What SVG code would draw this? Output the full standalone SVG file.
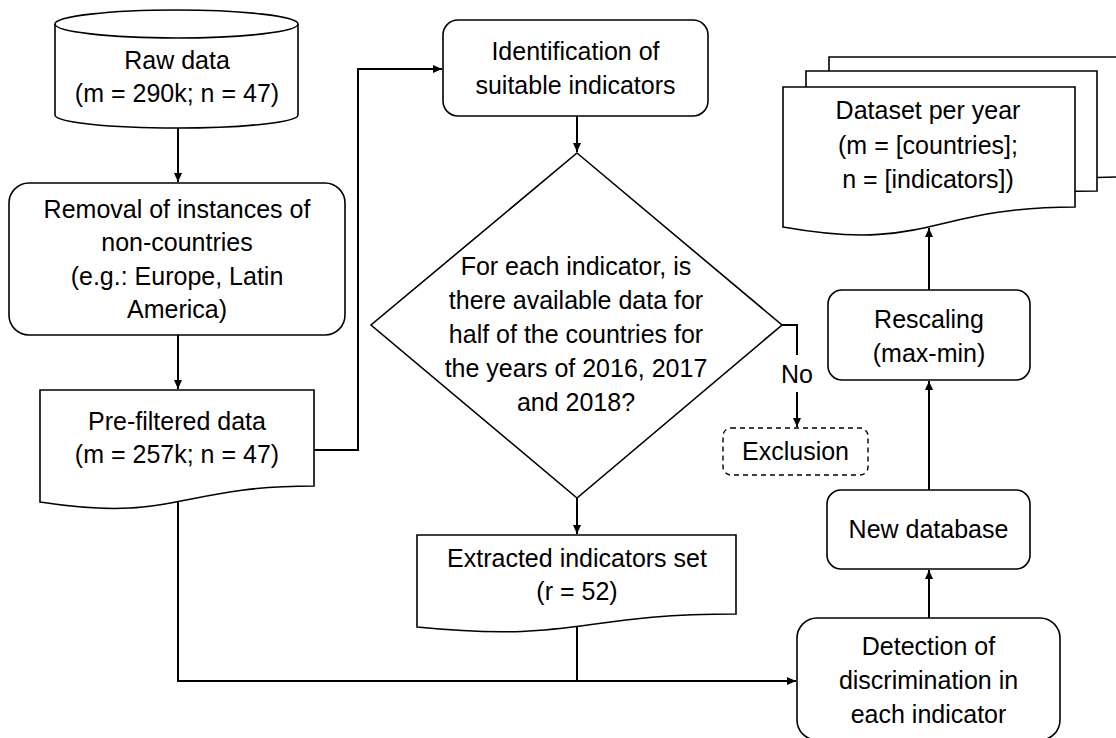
<svg xmlns="http://www.w3.org/2000/svg" width="1116" height="738" viewBox="0 0 1116 738">
<style>
.s{fill:#fff;stroke:#000;stroke-width:1.6}
.d{fill:#fff;stroke:#000;stroke-width:1.4;stroke-dasharray:5 4}
.t{font-family:"Liberation Sans",Arial,sans-serif;font-size:25px;fill:#000;text-anchor:middle}
.c{fill:none;stroke:#000;stroke-width:2}
</style>
<defs>
<marker id="ah" markerWidth="10" markerHeight="10" refX="9" refY="5" orient="auto" markerUnits="userSpaceOnUse">
<path d="M0,1 L9,5 L0,9 Z" fill="#000"/>
</marker>
</defs>
<rect width="1116" height="738" fill="#fff"/>
<g id="connectors">
<path class="c" d="M178,128 V182" marker-end="url(#ah)"/>
<path class="c" d="M178,335 V389" marker-end="url(#ah)"/>
<path class="c" d="M314,450 H358 V69 H442" marker-end="url(#ah)"/>
<path class="c" d="M577,116 V152" marker-end="url(#ah)"/>
<path class="c" d="M782,325 H797 V355"/>
<path class="c" d="M797,392 V427" marker-end="url(#ah)"/>
<path class="c" d="M577,498 V534" marker-end="url(#ah)"/>
<path class="c" d="M178,502 V681 H796" marker-end="url(#ah)"/>
<path class="c" d="M577,626 V681"/>
<path class="c" d="M929,618 V570" marker-end="url(#ah)"/>
<path class="c" d="M929,490 V381" marker-end="url(#ah)"/>
<path class="c" d="M929,290 V228" marker-end="url(#ah)"/>
<text class="t" x="797" y="383">No</text>
</g>
<g id="raw-data">
<path class="s" d="M55,24 V115 A121.5,13 0 0 0 298,115 V24"/>
<ellipse class="s" cx="176.5" cy="24" rx="121.5" ry="14"/>
<text class="t" x="177" y="69">Raw data</text>
<text class="t" x="177" y="102">(m = 290k; n = 47)</text>
</g>
<g id="removal">
<rect class="s" x="9" y="183" width="336" height="152" rx="20"/>
<text class="t" x="177" y="218">Removal of instances of</text>
<text class="t" x="177" y="251">non-countries</text>
<text class="t" x="177" y="285">(e.g.: Europe, Latin</text>
<text class="t" x="177" y="318">America)</text>
</g>
<g id="pre-filtered">
<path class="s" d="M40,390 H314 V486 C177,486 177,523 40,502 Z"/>
<text class="t" x="177" y="430">Pre-filtered data</text>
<text class="t" x="177" y="463">(m = 257k; n = 47)</text>
</g>
<g id="identification">
<rect class="s" x="443" y="20" width="265" height="96" rx="15"/>
<text class="t" x="575.5" y="60">Identification of</text>
<text class="t" x="575.5" y="94">suitable indicators</text>
</g>
<g id="decision">
<path class="s" d="M577,153 L782,325 L577,498 L371,325 Z"/>
<text class="t" x="576" y="275">For each indicator, is</text>
<text class="t" x="576" y="309">there available data for</text>
<text class="t" x="576" y="343">half of the countries for</text>
<text class="t" x="576" y="377">the years of 2016, 2017</text>
<text class="t" x="576" y="411">and 2018?</text>
</g>
<g id="exclusion">
<rect class="d" x="723" y="428" width="145" height="47" rx="8"/>
<text class="t" x="795.5" y="460">Exclusion</text>
</g>
<g id="extracted">
<path class="s" d="M417,535 H736 V614 C577,614 577,643 417,627 Z"/>
<text class="t" x="577" y="567">Extracted indicators set</text>
<text class="t" x="577" y="600">(r = 52)</text>
</g>
<g id="detection">
<rect class="s" x="797" y="618" width="263" height="122" rx="20"/>
<text class="t" x="928.5" y="655">Detection of</text>
<text class="t" x="928.5" y="689">discrimination in</text>
<text class="t" x="928.5" y="723">each indicator</text>
</g>
<g id="new-database">
<rect class="s" x="827" y="490" width="203" height="79" rx="14"/>
<text class="t" x="928.5" y="538">New database</text>
</g>
<g id="rescaling">
<rect class="s" x="828" y="290" width="202" height="90" rx="14"/>
<text class="t" x="929" y="328">Rescaling</text>
<text class="t" x="929" y="362">(max-min)</text>
</g>
<g id="dataset">
<path class="s" d="M829,57 H1121 V177 C975,177 975,223 829,197 Z"/>
<path class="s" d="M806,71 H1097 V191 C951,191 951,237 806,211 Z"/>
<path class="s" d="M783,87 H1075 V207 C929,207 929,253 783,227 Z"/>
<text class="t" x="928" y="119">Dataset per year</text>
<text class="t" x="928" y="154">(m = [countries];</text>
<text class="t" x="928" y="188">n = [indicators])</text>
</g>
</svg>
